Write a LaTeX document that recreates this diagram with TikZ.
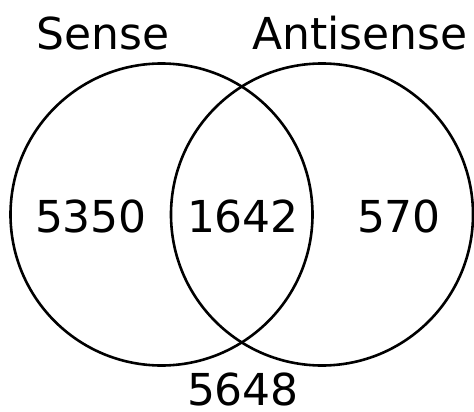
\documentclass[tikz,border=0pt]{standalone}
\usepackage{fontspec}
\setmainfont{DejaVu Sans}
\usepackage{tikz}

\begin{document}
\begin{tikzpicture}[x=1pt,y=-1pt]
% Styles (MODIFIABLES)
\tikzstyle{ensemble}=[circle,draw,line width=2.6pt,inner sep=0pt]
\tikzstyle{etiquette}=[anchor=base,inner sep=0pt,font=\fontsize{44}{44}\selectfont]
% Dimensions (MODIFIABLES)
\def\Rayon{151}
\def\LigneTitres{50}
\def\LigneNombres{232}
% Cadre
\useasboundingbox (0,0) rectangle (474,412);
% Ensembles
\node[ensemble,minimum size={2*\Rayon}] (S) at (161.5,214.5) {};
\node[ensemble,minimum size={2*\Rayon}] (A) at (322,214.5) {};
% Titres
\node[etiquette] (St) at (103,\LigneTitres) {Sense};
\node[etiquette] (At) at (360,\LigneTitres) {Antisense};
% Effectifs
\node[etiquette] (Sa) at (91,\LigneNombres) {5350};
\node[etiquette] (SA) at (243,\LigneNombres) {1642};
\node[etiquette] (Aa) at (399,\LigneNombres) {570};
\node[etiquette] (R) at (243,405) {5648};
\end{tikzpicture}
\end{document}
